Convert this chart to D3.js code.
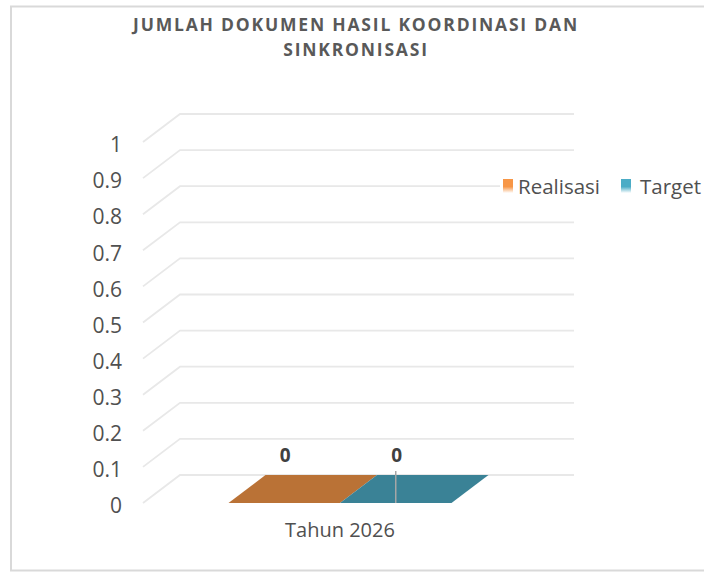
<!DOCTYPE html>
<html>
<head>
<meta charset="utf-8">
<script src="https://cdn.jsdelivr.net/npm/d3@7"></script>
<style>
  body { margin: 0; background: #fff; }
  svg { display: block; }
</style>
</head>
<body>
<div id="chart"></div>
<script>
// chart data
var categories = ["Tahun 2026"];
var seriesNames = ["Realisasi", "Target"];
var realisasi = [0];
var target = [0];
var yTicks = [0, 0.1, 0.2, 0.3, 0.4, 0.5, 0.6, 0.7, 0.8, 0.9, 1];
var titleLines = ["JUMLAH DOKUMEN HASIL KOORDINASI DAN", "SINKRONISASI"];

var svgWidth = 704;
var svgHeight = 573;

// 3d depth offset (back plane -> front plane)
var depthX = -37;
var depthY = 28;

var svg = d3.select("#chart")
  .append("svg")
  .attr("width", svgWidth)
  .attr("height", svgHeight);

// outer frame
svg.append("rect")
  .attr("x", 11)
  .attr("y", 6.5)
  .attr("width", 720)
  .attr("height", 564)
  .attr("fill", "#fff")
  .attr("stroke", "#d9d9d9")
  .attr("stroke-width", 2);

// title
svg.append("g")
  .selectAll("text")
  .data(titleLines)
  .enter()
  .append("text")
  .attr("x", 356)
  .attr("y", (d, i) => 31 + i * 25)
  .attr("text-anchor", "middle")
  .attr("font-family", "'Open Sans', sans-serif")
  .attr("font-weight", "bold")
  .attr("font-size", "17.5px")
  .attr("letter-spacing", "1.8px")
  .attr("fill", "#595959")
  .text(d => d);

// scales (back plane)
var yScale = d3.scaleLinear().domain([0, 1]).range([475, 114]);
var xBand = d3.scaleBand().domain(categories).range([180, 574]).padding(0);
var xSeries = d3.scaleBand().domain(seriesNames).range([0, xBand.bandwidth()])
  .paddingInner(0).paddingOuter(0.767);

// gridlines
svg.append("g")
  .selectAll("path")
  .data(yTicks)
  .enter()
  .append("path")
  .attr("d", d => {
    var y = yScale(d);
    return `M${180 + depthX},${y + depthY}L180,${y}L574,${y}`;
  })
  .attr("fill", "none")
  .attr("stroke", "#e8e8e8")
  .attr("stroke-width", 1.8);

// y axis labels (front plane)
var yFront = d3.scaleLinear().domain([0, 1]).range([475 + depthY, 114 + depthY]);
var leftAxis = d3.axisLeft(yFront).tickValues(yTicks).tickSize(0).tickPadding(9)
  .tickFormat(d => String(d));
var yAxis = svg.append("g")
  .attr("transform", "translate(131, 3)")
  .call(leftAxis);
yAxis.select(".domain").remove();
yAxis.selectAll("text")
  .attr("font-family", "'Open Sans', sans-serif")
  .attr("font-size", "21px")
  .attr("fill", "#505050");

// bars
var barData = [];
categories.forEach((c, i) => {
  barData.push({ cat: c, series: "Realisasi", value: realisasi[i], top: "#ba7236", front: "#f79646" });
  barData.push({ cat: c, series: "Target", value: target[i], top: "#3a8296", front: "#4bacc6" });
});

var barGroup = svg.append("g");
barData.forEach(d => {
  var bx0 = xBand(d.cat) + xSeries(d.series);
  var bx1 = bx0 + xSeries.bandwidth();
  var yb = yScale(d.value);
  var y0 = yScale(0);
  // front face
  barGroup.append("rect")
    .attr("x", bx0 + depthX)
    .attr("y", yb + depthY)
    .attr("width", bx1 - bx0)
    .attr("height", y0 - yb)
    .attr("fill", d.front);
  // top face
  barGroup.append("path")
    .attr("d", `M${bx0 + depthX},${yb + depthY}L${bx0},${yb}L${bx1},${yb}L${bx1 + depthX},${yb + depthY}Z`)
    .attr("fill", d.top);
});

// thin marker line on target bar
var tx = xBand(categories[0]) + xSeries("Target") + xSeries.bandwidth() / 2 + depthX;
svg.append("line")
  .attr("x1", tx).attr("x2", tx)
  .attr("y1", yScale(0) - 4).attr("y2", yScale(0) + depthY)
  .attr("stroke", "#a6a6a6")
  .attr("stroke-width", 1.5);

// data labels
svg.append("g")
  .selectAll("text")
  .data(barData)
  .enter()
  .append("text")
  .attr("x", d => xBand(d.cat) + xSeries(d.series) + xSeries.bandwidth() / 2 + depthX + 1)
  .attr("y", d => yScale(d.value) - 13)
  .attr("text-anchor", "middle")
  .attr("font-family", "'Open Sans', sans-serif")
  .attr("font-weight", "bold")
  .attr("font-size", "19px")
  .attr("fill", "#404040")
  .text(d => d.value);

// category axis label
var xFront = d3.scaleBand().domain(categories).range([180 + depthX, 574 + depthX]);
var bottomAxis = d3.axisBottom(xFront).tickSize(0).tickPadding(0);
var xAxis = svg.append("g")
  .attr("transform", "translate(0, 523)")
  .call(bottomAxis);
xAxis.select(".domain").remove();
xAxis.selectAll("text")
  .attr("font-family", "'Open Sans', sans-serif")
  .attr("font-size", "20px")
  .attr("fill", "#505050");

// legend
var legendItems = [
  { name: "Realisasi", color: "#f79646", x: 503, tx: 518 },
  { name: "Target", color: "#4bacc6", x: 621, tx: 640 }
];
var defs = svg.append("defs");
legendItems.forEach((l, i) => {
  var grad = defs.append("linearGradient")
    .attr("id", "lg" + i)
    .attr("x1", 0).attr("y1", 0).attr("x2", 0).attr("y2", 1);
  grad.append("stop").attr("offset", "0.55").attr("stop-color", l.color);
  grad.append("stop").attr("offset", "1").attr("stop-color", "#ffffff");
});
var legend = svg.append("g");
legend.append("rect")
  .attr("x", 500)
  .attr("y", 172)
  .attr("width", 204)
  .attr("height", 28)
  .attr("fill", "#fff");
legend.selectAll(".key")
  .data(legendItems)
  .enter()
  .append("rect")
  .attr("class", "key")
  .attr("x", d => d.x)
  .attr("y", 179)
  .attr("width", 10)
  .attr("height", 14)
  .attr("fill", (d, i) => `url(#lg${i})`);
legend.selectAll("text")
  .data(legendItems)
  .enter()
  .append("text")
  .attr("x", d => d.tx)
  .attr("y", 194)
  .attr("font-family", "'Open Sans', sans-serif")
  .attr("font-size", "20.5px")
  .attr("fill", "#505050")
  .text(d => d.name);
</script>
</body>
</html>
